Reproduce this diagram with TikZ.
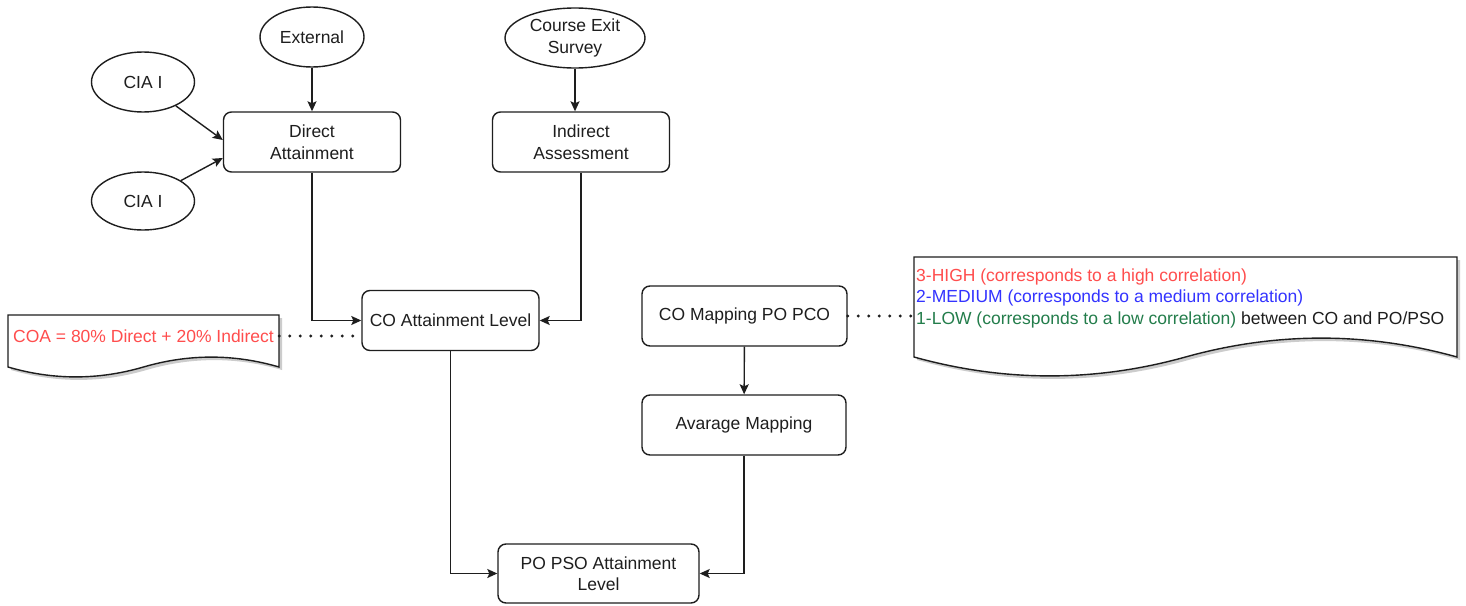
\documentclass[tikz,border=0pt]{standalone}
\usepackage{fontspec}
\setmainfont{Liberation Sans}
\usetikzlibrary{arrows.meta,shapes.geometric,shadows,calc}
\definecolor{hired}{RGB}{255,77,77}
\definecolor{medblue}{RGB}{51,51,255}
\definecolor{lowgreen}{RGB}{35,125,75}
\definecolor{ink}{RGB}{30,30,30}
\begin{document}
\begin{tikzpicture}[x=1pt,y=-1pt,
  lbl/.style={font=\fontsize{17.5}{21.5}\selectfont, text=ink},
  box/.style={lbl, draw=ink, rounded corners=8pt, line width=1.4pt, align=center, inner sep=0pt, minimum width=177pt, minimum height=60pt},
  oval/.style={lbl, draw=ink, ellipse, line width=1.4pt, inner sep=0pt, align=center, minimum height=60pt},
  arr/.style={draw=ink, line width=1.4pt, -{Stealth[length=10pt,width=9pt,inset=2pt]}},
  dotl/.style={draw=ink, line width=3.2pt, line cap=round, dash pattern=on 0pt off 10.5pt},
  notebox/.style={draw=ink, line width=1.4pt, fill=white, drop shadow={shadow xshift=3pt, shadow yshift=-3pt, opacity=.4}}
]
\fill[white] (0,0) rectangle (1466,605);
\useasboundingbox (0,0) rectangle (1466,605);

% note outlines
\path[notebox] (8,315) -- (279,315) -- (279,367)
  .. controls (233.8,353.8) and (188.7,353.8) .. (143.5,367)
  .. controls (98.3,380.2) and (53.2,380.2) .. (8,367) -- cycle;
\path[notebox] (914,257) -- (1457,257) -- (1457,357)
  .. controls (1366.5,331.8) and (1276,331.8) .. (1185.5,357)
  .. controls (1095,382.2) and (1004.5,382.2) .. (914,357) -- cycle;

% nodes
\node[oval, minimum width=104pt] (ext) at (312,37) {External};
\node[oval, minimum width=103pt] (ciaA) at (143,82) {CIA I};
\node[oval, minimum width=103pt, minimum height=58pt] (ciaB) at (143,201) {CIA I};
\node[box] (dir) at (312,142) {Direct\\Attainment};
\node[oval, minimum width=140pt] (ces) at (575,38) {Course Exit\\Survey};
\node[box] (ind) at (581,142) {Indirect\\Assessment};
\node[box] (coal) at (450.5,320.5) {CO Attainment Level};
\node[box, minimum width=205pt] (comap) at (744.5,316) {CO Mapping PO PCO};
\node[box, minimum width=204pt] (avg) at (744,425) {Avarage Mapping};
\node[box, minimum width=201pt, minimum height=59pt] (popso) at (598.5,573.5) {PO PSO Attainment\\Level};

\node[lbl, text=hired, inner sep=0pt, minimum width=271pt] (coa) at (143.5,336) {COA = 80\% Direct + 20\% Indirect};
\node[lbl, align=left, anchor=west, inner xsep=2pt, inner ysep=0pt] (mapnote) at (914,298)
  {\textcolor{hired}{3-HIGH (corresponds to a high correlation)}\\
   \textcolor{medblue}{2-MEDIUM (corresponds to a medium correlation)}\\
   \textcolor{lowgreen}{1-LOW (corresponds to a low correlation)} between CO and PO/PSO};

% connectors
\draw[arr] (ext) -- (dir);
\draw[arr] (ciaA) -- ([yshift=2pt]dir.west);
\draw[arr] (ciaB) -- ([yshift=-16pt]dir.west);
\draw[arr] (dir.south) |- (coal.west);
\draw[arr] (ces.south) -- (ces.south |- ind.north);
\draw[arr] (ind.south) |- (coal.east);
\draw[arr] (coal.south) |- (popso.west);
\draw[arr] (comap) -- (avg);
\draw[arr] (avg.south) |- (popso.east);

\draw[dotl] (coa.east) -- (coa.east -| coal.west);
\draw[dotl] (comap.east) -- (comap.east -| mapnote.west);
\end{tikzpicture}
\end{document}
